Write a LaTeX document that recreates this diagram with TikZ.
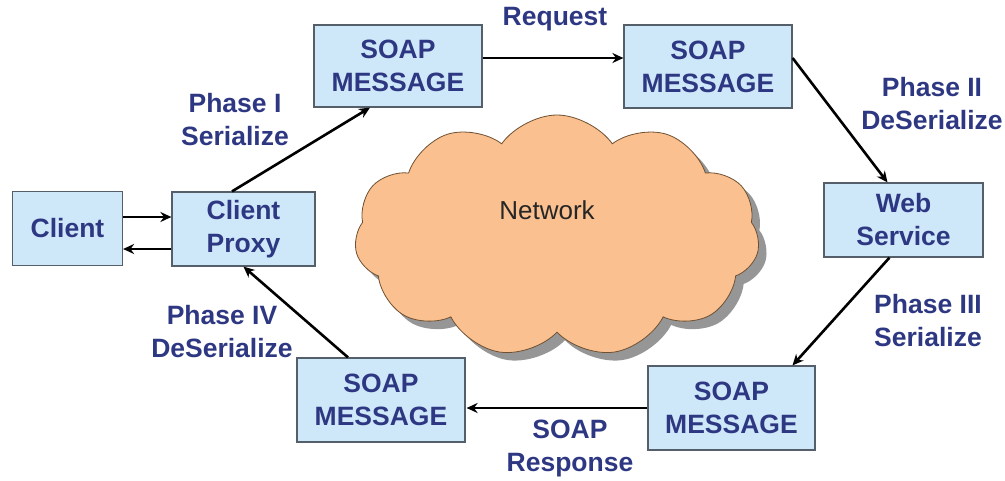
\documentclass[tikz,border=0pt]{standalone}
\usepackage{fontspec}
\setmainfont{Liberation Sans}
\usetikzlibrary{arrows.meta,shapes.symbols}
\definecolor{boxfill}{RGB}{206,232,250}
\definecolor{boxline}{RGB}{85,95,105}
\definecolor{txtblue}{RGB}{46,56,130}
\definecolor{cloudfill}{RGB}{250,192,143}
\definecolor{cloudline}{RGB}{110,80,50}
\definecolor{shadowgray}{RGB}{150,150,150}
\begin{document}
\begin{tikzpicture}[x=1pt,y=-1pt,
  box/.style={draw=boxline,line width=1.2pt,fill=boxfill,align=center,text=txtblue,
    font=\bfseries\fontsize{26.5}{33}\selectfont,inner sep=0pt},
  lbl/.style={align=center,text=txtblue,font=\bfseries\fontsize{26.5}{33}\selectfont,inner sep=0pt},
  conn/.style={line width=2.6pt,-{Stealth[length=11pt,width=10pt]}}]
\useasboundingbox (0,0) rectangle (1005,480);
% cloud
\node[cloud,cloud puffs=11,cloud puff arc=110,aspect=1.7,fill=shadowgray,minimum width=405pt,minimum height=242pt,inner sep=0pt] (cloudshadow) at (565,244) {};
\node[cloud,cloud puffs=11,cloud puff arc=110,aspect=1.7,draw=cloudline,line width=0.8pt,fill=cloudfill,minimum width=405pt,minimum height=242pt,inner sep=0pt] (cloud) at (557,236) {};
\node[font=\fontsize{26}{30}\selectfont,text=black!85] (net) at (547,210) {Network};
% boxes
\node[box,minimum width=110pt,minimum height=74pt] (client) at (67.5,228.5) {Client};
\node[box,minimum width=143pt,minimum height=74pt] (proxy) at (243.5,229) {Client\\Proxy};
\node[box,minimum width=168pt,minimum height=82pt] (s1) at (398,66) {SOAP\\MESSAGE};
\node[box,minimum width=168pt,minimum height=83pt] (s2) at (708,66.5) {SOAP\\MESSAGE};
\node[box,minimum width=159pt,minimum height=74pt] (ws) at (903.5,220) {Web\\Service};
\node[box,minimum width=167pt,minimum height=84pt] (s3) at (731.5,408) {SOAP\\MESSAGE};
\node[box,minimum width=168pt,minimum height=84pt] (s4) at (381,400) {SOAP\\MESSAGE};
% labels
\node[lbl] (req) at (555,19) {Request};
\node[lbl] (p1) at (235,120) {Phase I\\Serialize};
\node[lbl] (p2) at (932,104) {Phase II\\DeSerialize};
\node[lbl] (p3) at (928,321) {Phase III\\Serialize};
\node[lbl] (p4) at (222,332) {Phase IV\\DeSerialize};
\node[lbl] (resp) at (570,448) {SOAP\\Response};
% connectors
\draw[conn] ([yshift=11.5pt]client.east) -- ([yshift=12pt]proxy.west);
\draw[conn] ([yshift=-20pt]proxy.west) -- ([yshift=-20.5pt]client.east);
\draw[conn] ([xshift=-11.5pt]proxy.north) -- ([xshift=-28pt]s1.south);
\draw[conn] ([yshift=8pt]s1.east) -- ([yshift=8.5pt]s2.west);
\draw[conn] ([yshift=8.5pt]s2.east) -- ([xshift=-16pt]ws.north);
\draw[conn] ([xshift=-14pt]ws.south) -- ([xshift=61pt]s3.north);
\draw[conn] (s3.west) -- ([xshift=1pt,yshift=-8pt]s4.east);
\draw[conn] ([xshift=-33pt]s4.north) -- ([xshift=0pt]proxy.south);
\end{tikzpicture}
\end{document}
